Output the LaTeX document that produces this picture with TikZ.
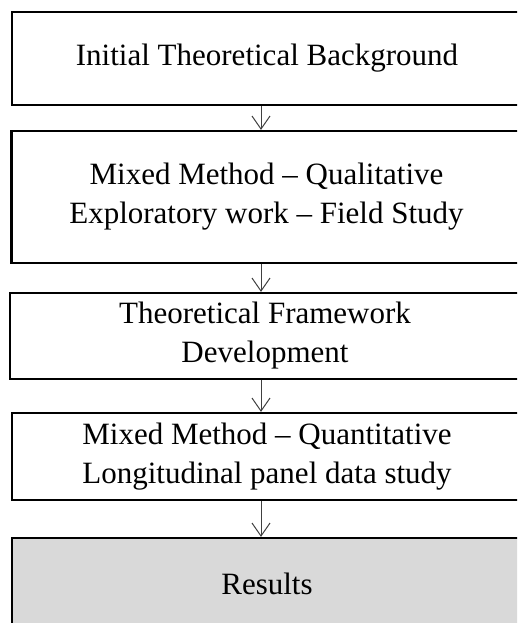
\documentclass[tikz,border=0pt]{standalone}
\usepackage{fontspec}
\setmainfont{Liberation Serif}
\usetikzlibrary{arrows.meta}

\begin{document}
\begin{tikzpicture}[x=1pt,y=1pt,
  stage/.style={draw=black, line width=2.2pt, rectangle, inner sep=0pt,
    minimum width=510pt, align=center,
    font=\fontsize{31}{39}\selectfont},
  final/.style={stage, fill=gray!30},
  flow/.style={draw=black!75, line width=1pt,
    -{Straight Barb[length=13pt,width=18pt,line width=1pt]}}]
  \useasboundingbox (0,0) rectangle (517,-623);
  \clip (0,0) rectangle (517,-623);

  \node[stage, minimum height=93pt]  (b1) at (267,-58.5) {Initial Theoretical Background};
  \node[stage, minimum height=132pt] (b2) at (266.5,-197) {Mixed Method -- Qualitative\\Exploratory work -- Field Study};
  \node[stage, minimum height=86pt]  (b3) at (265,-336) {Theoretical Framework\\Development};
  \node[stage, minimum height=87pt]  (b4) at (267,-456.5) {Mixed Method -- Quantitative\\Longitudinal panel data study};
  \node[final, minimum height=92pt]  (b5) at (267,-584) {Results};

  % vertical axis the connectors run along
  \coordinate (axis) at (261,0);
  \draw[flow] (b1.south -| axis) -- (b2.north -| axis);
  \draw[flow] (b2.south -| axis) -- (b3.north -| axis);
  \draw[flow] (b3.south -| axis) -- (b4.north -| axis);
  \draw[flow] (b4.south -| axis) -- (b5.north -| axis);
\end{tikzpicture}
\end{document}
